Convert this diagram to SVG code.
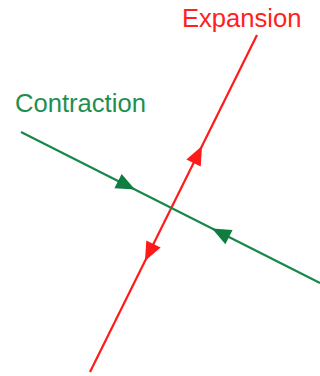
<svg xmlns="http://www.w3.org/2000/svg" xmlns:xlink="http://www.w3.org/1999/xlink" width="320" height="376" viewBox="0 0 320 376">
<style>
.lbl{font-family:"Liberation Sans",Arial,Helvetica,sans-serif;font-size:25.6px}
.red{stroke:#ff1a1a;fill:none;stroke-width:2.2}
.grn{stroke:#17874a;fill:none;stroke-width:2.2}
</style>
<defs>
<path id="ah" d="M0,0 L-19,-8 L-19,8 Z"/>
</defs>
<rect width="320" height="376" fill="#ffffff"/>
<g id="connectors">
<g id="expansion-line">
<line class="red" x1="257" y1="35" x2="90" y2="372"/>
<use xlink:href="#ah" href="#ah" fill="#ff1a1a" transform="translate(202,146) rotate(-63.6)"/>
<use xlink:href="#ah" href="#ah" fill="#ff1a1a" transform="translate(145,261) rotate(116.4)"/>
</g>
<g id="contraction-line">
<line class="grn" x1="21" y1="132" x2="320" y2="283"/>
<use xlink:href="#ah" href="#ah" fill="#0f7d3f" transform="translate(135,189.6) rotate(26.8)"/>
<use xlink:href="#ah" href="#ah" fill="#0f7d3f" transform="translate(212,228.5) rotate(206.8)"/>
</g>
</g>
<g id="expansion-label">
<text class="lbl" x="182" y="27" fill="#ff2020">Expansion</text>
</g>
<g id="contraction-label">
<text class="lbl" x="15" y="112" fill="#1f8f50">Contraction</text>
</g>
</svg>
